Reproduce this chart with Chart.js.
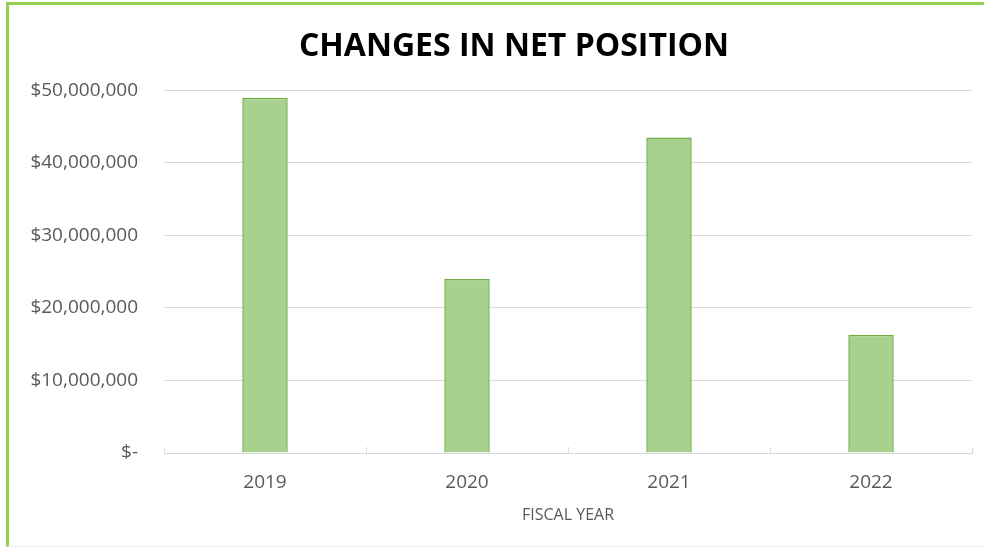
<!DOCTYPE html>
<html>
<head>
<meta charset="utf-8">
<script src="https://cdn.jsdelivr.net/npm/chart.js@4"></script>
<style>
    html, body { margin: 0; padding: 0; background: #fff; overflow: hidden; }
    .frame {
        position: absolute;
        left: 6px;
        top: 2px;
        width: 978px;
        height: 545px;
        border-left: 3px solid #92D050;
        border-top: 3px solid #92D050;
        border-bottom: 1px solid #EFEFEA;
        box-sizing: border-box;
    }
    /* a little wider than the window so the title lands where it sits in the original */
    .chart-box {
        position: absolute;
        left: 9px;
        top: 5px;
        width: 1010px;
        height: 540px;
    }
</style>
</head>
<body>
<div class="frame"></div>
<div class="chart-box"><canvas id="netChart"></canvas></div>
<script>
const fiscalYears = ['2019', '2020', '2021', '2022'];
const netPositionChange = [49000000, 24000000, 43500000, 16300000];
const yTicks = [0, 10000000, 20000000, 30000000, 40000000, 50000000];

const textGray = '#595959';

// small upward tick marks at the category boundaries, like the original
const boundaryTicks = {
    id: 'boundaryTicks',
    afterDraw(chart) {
        const x = chart.scales.x;
        const y = chart.scales.y;
        const ctx = chart.ctx;
        const base = y.getPixelForValue(0);
        ctx.save();
        ctx.strokeStyle = '#D9D9D9';
        ctx.lineWidth = 1;
        for (let i = 0; i <= fiscalYears.length; i++) {
            const px = Math.round(x.getPixelForValue(i - 0.5)) + 0.5;
            ctx.beginPath();
            ctx.moveTo(px, base);
            ctx.lineTo(px, base - 6);
            ctx.stroke();
        }
        ctx.restore();
    }
};

const ctx = document.getElementById('netChart').getContext('2d');
new Chart(ctx, {
    type: 'bar',
    data: {
        labels: fiscalYears,
        datasets: [{
            data: netPositionChange,
            backgroundColor: '#A9D18E',
            borderColor: '#70AD47',
            borderWidth: 1.5,
            categoryPercentage: 1,
            barPercentage: 0.225
        }]
    },
    options: {
        responsive: true,
        maintainAspectRatio: false,
        animation: false,
        layout: {
            padding: { top: 18, right: 0, bottom: 20, left: 0 }
        },
        plugins: {
            legend: { display: false },
            tooltip: { enabled: false },
            title: {
                display: true,
                text: 'CHANGES IN NET POSITION',
                color: '#000',
                font: { family: 'Open Sans', size: 32, weight: 'bold' },
                padding: { top: 5, bottom: 24 }
            }
        },
        scales: {
            x: {
                grid: { display: false },
                border: { color: '#D9D9D9', width: 1 },
                ticks: {
                    color: textGray,
                    font: { family: 'Open Sans', size: 19 },
                    padding: 10
                },
                title: {
                    display: true,
                    text: 'FISCAL YEAR',
                    color: textGray,
                    font: { family: 'Open Sans', size: 16 },
                    padding: { top: 2, bottom: 0 }
                }
            },
            y: {
                min: 0,
                max: 50000000,
                afterBuildTicks(scale) {
                    scale.ticks = yTicks.map(v => ({ value: v }));
                },
                afterFit(scale) {
                    scale.width = 155;
                },
                grid: {
                    color: '#D9D9D9',
                    drawTicks: false
                },
                border: { display: false },
                ticks: {
                    color: textGray,
                    font: { family: 'Open Sans', size: 19 },
                    padding: 26,
                    callback: function(value) {
                        if (value === 0) return '$-';
                        return '$' + value.toLocaleString('en-US');
                    }
                }
            },
            // empty right-hand box: keeps the plot's right edge in from the title's span
            spacer: {
                type: 'linear',
                position: 'right',
                grid: { display: false, drawTicks: false },
                border: { display: false },
                ticks: { display: false },
                afterFit(scale) {
                    scale.width = 47;
                }
            }
        }
    },
    plugins: [boundaryTicks]
});
</script>
</body>
</html>
